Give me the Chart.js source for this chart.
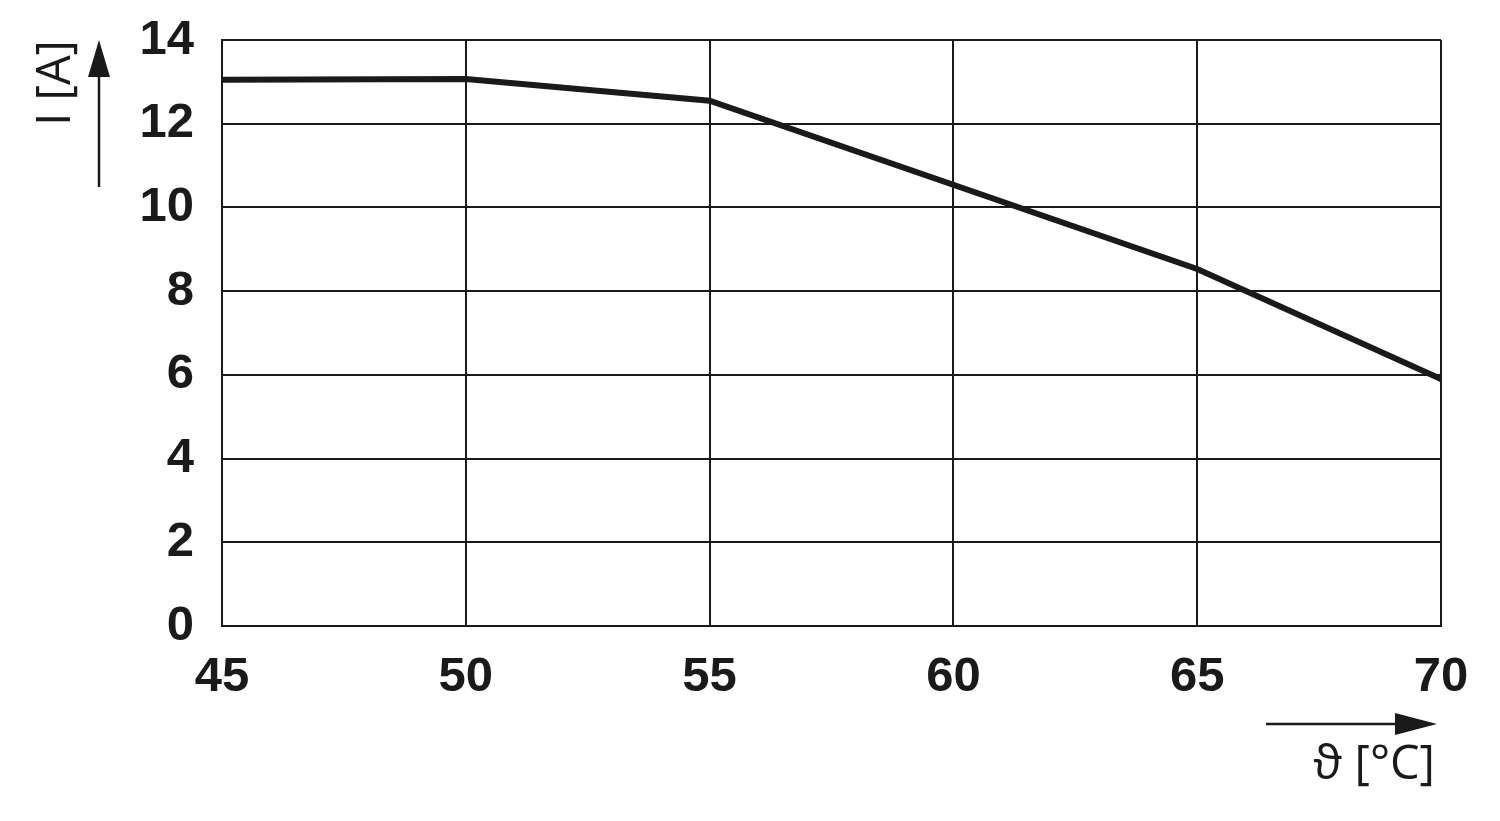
<!DOCTYPE html>
<html>
<head>
<meta charset="utf-8">
<script src="https://cdn.jsdelivr.net/npm/chart.js@4.4.1/dist/chart.umd.min.js"></script>
<style>
  html, body { margin: 0; padding: 0; background: #ffffff; }
  #wrap { width: 1500px; height: 821px; position: relative; }
</style>
</head>
<body>
<div id="wrap"><canvas id="c" width="1500" height="821"></canvas></div>
<script>
// ---- data ----
const temperatures = [45, 50, 55, 65, 70];
const currents = [13.05, 13.07, 12.55, 8.53, 5.9];
const xTicks = [45, 50, 55, 60, 65, 70];
const yTicks = [0, 2, 4, 6, 8, 10, 12, 14];
const xTitle = 'ϑ [°C]';
const yTitle = 'I [A]';

const INK = '#1a1a1a';
const TICK_FONT = { family: '"Liberation Sans", Arial, sans-serif', size: 49, weight: 'bold' };

const decor = {
  id: 'decor',
  afterDraw(chart) {
    const ctx = chart.ctx;
    const a = chart.chartArea;
    ctx.save();
    ctx.fillStyle = INK;
    ctx.strokeStyle = INK;
    ctx.lineWidth = 2.5;
    // y arrow
    const ax = a.left - 123;
    ctx.beginPath();
    ctx.moveTo(ax, a.top + 147);
    ctx.lineTo(ax, a.top + 30);
    ctx.stroke();
    ctx.beginPath();
    ctx.moveTo(ax, a.top);
    ctx.lineTo(ax - 11, a.top + 37);
    ctx.lineTo(ax + 11, a.top + 37);
    ctx.closePath();
    ctx.fill();
    // x arrow
    const ay = a.bottom + 98;
    const tipX = a.right - 4;
    ctx.beginPath();
    ctx.moveTo(a.right - 175, ay);
    ctx.lineTo(tipX - 30, ay);
    ctx.stroke();
    ctx.beginPath();
    ctx.moveTo(tipX, ay);
    ctx.lineTo(tipX - 42, ay - 11);
    ctx.lineTo(tipX - 42, ay + 11);
    ctx.closePath();
    ctx.fill();
    // titles
    ctx.font = '400 47px "Open Sans", "DejaVu Sans", sans-serif';
    ctx.textBaseline = 'middle';
    ctx.textAlign = 'right';
    ctx.fillText(xTitle, a.right - 6, a.bottom + 140);
    ctx.save();
    ctx.translate(a.left - 165, a.top);
    ctx.rotate(-Math.PI / 2);
    ctx.textAlign = 'right';
    ctx.fillText(yTitle, 0, 0);
    ctx.restore();
    ctx.restore();
  }
};

new Chart(document.getElementById('c'), {
  type: 'line',
  data: {
    datasets: [{
      data: temperatures.map((t, i) => ({ x: t, y: currents[i] })),
      borderColor: INK,
      borderWidth: 6,
      borderCapStyle: 'round',
      borderJoinStyle: 'miter',
      pointRadius: 0,
      tension: 0,
      fill: false
    }]
  },
  options: {
    responsive: false,
    animation: false,
    devicePixelRatio: 1,
    layout: { padding: { left: 0, right: 59, top: 40, bottom: 0 } },
    plugins: { legend: { display: false }, tooltip: { enabled: false } },
    scales: {
      x: {
        type: 'linear',
        min: 45, max: 70,
        afterBuildTicks: s => { s.ticks = xTicks.map(v => ({ value: v })); },
        afterFit: s => { s.height = 195; s.paddingLeft = 0; s.paddingRight = 0; },
        grid: { color: INK, lineWidth: 2, drawTicks: false },
        border: { display: true, color: INK, width: 2 },
        ticks: { color: INK, font: TICK_FONT, padding: 22, maxRotation: 0, autoSkip: false }
      },
      y: {
        type: 'linear',
        min: 0, max: 14,
        afterBuildTicks: s => { s.ticks = yTicks.map(v => ({ value: v })); },
        afterFit: s => { s.width = 222; s.paddingTop = 0; s.paddingBottom = 0; },
        grid: { color: INK, lineWidth: 2, drawTicks: false },
        border: { display: true, color: INK, width: 2 },
        ticks: { color: INK, font: TICK_FONT, padding: 28, autoSkip: false }
      }
    }
  },
  plugins: [decor]
});
</script>
</body>
</html>
